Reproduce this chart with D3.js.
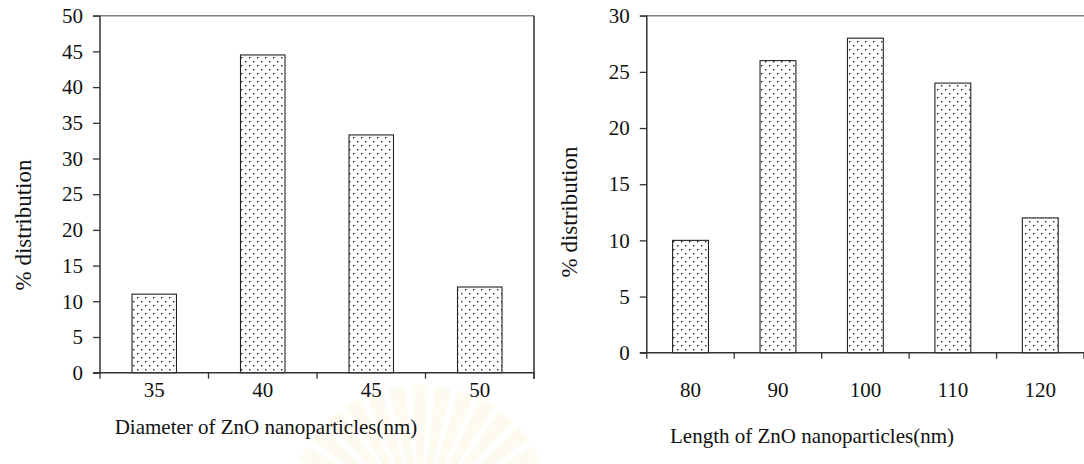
<!DOCTYPE html>
<html>
<head>
<meta charset="utf-8">
<script src="https://cdn.jsdelivr.net/npm/d3@7"></script>
<style>
  body { margin: 0; background: #fff; }
  svg { display: block; }
  text { font-family: "Liberation Serif", "Times New Roman", serif; fill: #111; }
</style>
</head>
<body>
<svg id="chart" width="1084" height="464"></svg>
<script>
// diameter distribution (left panel)
var diamCats = ["35", "40", "45", "50"];
var diamVals = [11, 44.5, 33.3, 12];
var diamTicks = [0, 5, 10, 15, 20, 25, 30, 35, 40, 45, 50];

// length distribution (right panel)
var lenCats = ["80", "90", "100", "110", "120"];
var lenVals = [10, 26, 28, 24, 12];
var lenTicks = [0, 5, 10, 15, 20, 25, 30];

var svg = d3.select("#chart");

// faint watermark seal behind the bottom (scanned page)
var wm = svg.append("g").attr("transform", "translate(420,520)");
wm.selectAll("path")
    .data(d3.range(-70, 71, 10))
    .enter().append("path")
    .attr("d", d3.arc().innerRadius(40).outerRadius(135).startAngle(-0.06).endAngle(0.06))
    .attr("transform", function(d) { return "rotate(" + d + ")"; })
    .attr("fill", "#fdfaf0");

// dotted fill like the old excel pattern
var defs = svg.append("defs");
var pat = defs.append("pattern")
    .attr("id", "dots")
    .attr("patternUnits", "userSpaceOnUse")
    .attr("width", 8)
    .attr("height", 8);
pat.append("rect").attr("width", 8).attr("height", 8).attr("fill", "#fff");
pat.append("rect").attr("x", 1).attr("y", 1).attr("width", 1.4).attr("height", 1.4).attr("fill", "#222");
pat.append("rect").attr("x", 5).attr("y", 5).attr("width", 1.4).attr("height", 1.4).attr("fill", "#222");

function panel(opts) {
    var x = d3.scaleBand()
        .domain(opts.cats)
        .range([opts.left, opts.right])
        .paddingInner(0.59)
        .paddingOuter(0.295);
    var y = d3.scaleLinear()
        .domain([0, opts.max])
        .range([opts.bottom, opts.top]);

    var g = svg.append("g");

    // top frame line (grey)
    g.append("line")
        .attr("x1", opts.left - 7).attr("x2", opts.right)
        .attr("y1", y(opts.max)).attr("y2", y(opts.max))
        .attr("stroke", "#808080").attr("stroke-width", 1.6);

    if (opts.rightBorder) {
        g.append("line")
            .attr("x1", opts.right).attr("x2", opts.right)
            .attr("y1", y(opts.max)).attr("y2", opts.bottom + 6)
            .attr("stroke", "#111").attr("stroke-width", 1.3);
    }

    // bars
    g.selectAll("rect.bar")
        .data(opts.vals)
        .enter().append("rect")
        .attr("class", "bar")
        .attr("x", function(d, i) { return x(opts.cats[i]); })
        .attr("width", x.bandwidth())
        .attr("y", function(d) { return y(d); })
        .attr("height", function(d) { return opts.bottom - y(d); })
        .attr("fill", "url(#dots)")
        .attr("stroke", "#222")
        .attr("stroke-width", 1.1);

    // y axis
    var yAxis = d3.axisLeft(y)
        .tickValues(opts.ticks)
        .tickSize(7)
        .tickPadding(10)
        .tickFormat(d3.format("d"));
    var ya = g.append("g")
        .attr("transform", "translate(" + opts.left + ",0)")
        .call(yAxis);
    ya.select(".domain").remove();
    ya.selectAll("line").attr("stroke", "#333").attr("stroke-width", 1.3);
    ya.selectAll("text")
        .style("font-family", "Liberation Serif, serif")
        .style("font-size", "21px")
        .attr("fill", "#111");
    g.append("line")
        .attr("x1", opts.left).attr("x2", opts.left)
        .attr("y1", y(opts.max)).attr("y2", opts.bottom)
        .attr("stroke", "#333").attr("stroke-width", 1.5);

    // x axis: ticks sit between the categories
    var step = x.step();
    var bounds = d3.range(opts.cats.length + 1).map(function(i) { return opts.left + i * step; });
    g.selectAll("line.xt")
        .data(bounds)
        .enter().append("line")
        .attr("class", "xt")
        .attr("x1", function(d) { return d; }).attr("x2", function(d) { return d; })
        .attr("y1", opts.bottom).attr("y2", opts.bottom + 6)
        .attr("stroke", "#333").attr("stroke-width", 1.3);
    g.append("line")
        .attr("x1", opts.left - 7).attr("x2", opts.right)
        .attr("y1", opts.bottom).attr("y2", opts.bottom)
        .attr("stroke", "#333").attr("stroke-width", 1.6);

    g.selectAll("text.xl")
        .data(opts.cats)
        .enter().append("text")
        .attr("class", "xl")
        .attr("x", function(d) { return x(d) + x.bandwidth() / 2; })
        .attr("y", opts.xLabelY)
        .attr("text-anchor", "middle")
        .style("font-size", "21px")
        .text(function(d) { return d; });

    g.append("text")
        .attr("x", opts.xTitleX)
        .attr("y", opts.xTitleY)
        .attr("text-anchor", "middle")
        .style("font-size", "21px")
        .text(opts.xTitle);

    g.append("text")
        .attr("transform", "translate(" + opts.yTitleX + "," + opts.yTitleY + ") rotate(-90)")
        .attr("text-anchor", "middle")
        .style("font-size", "23px")
        .text("% distribution");
}

panel({
    cats: diamCats, vals: diamVals, ticks: diamTicks, max: 50,
    left: 100, right: 534, top: 15.7, bottom: 372.7,
    rightBorder: true,
    xLabelY: 397, xTitle: "Diameter of ZnO nanoparticles(nm)",
    xTitleX: 266, xTitleY: 434, yTitleX: 31, yTitleY: 225
});

panel({
    cats: lenCats, vals: lenVals, ticks: lenTicks, max: 30,
    left: 646.8, right: 1084, top: 15.7, bottom: 352.7,
    rightBorder: false,
    xLabelY: 397, xTitle: "Length of ZnO nanoparticles(nm)",
    xTitleX: 812, xTitleY: 443, yTitleX: 577, yTitleY: 212
});
</script>
</body>
</html>
